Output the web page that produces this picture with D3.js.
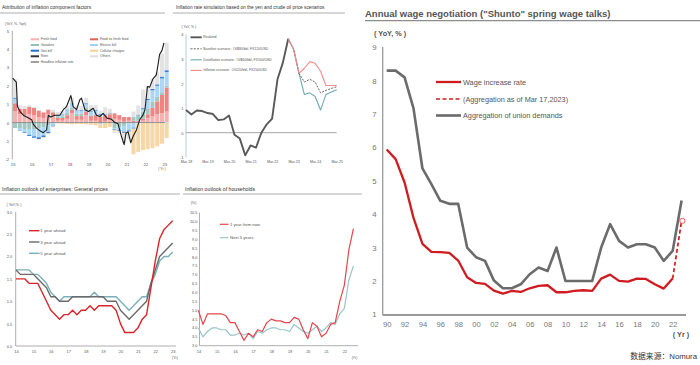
<!DOCTYPE html>
<html><head><meta charset="utf-8">
<script src="https://cdn.jsdelivr.net/npm/d3@7"></script>
<style>
html,body{margin:0;padding:0;background:#fff;}
svg{display:block;}
</style></head><body>
<script>
// ================= DATA =================
// Panel A: Attribution of inflation component factors (quarterly, %pt)
const attrQuarters = [2015,2015.25,2015.5,2015.75,2016,2016.25,2016.5,2016.75,2017,2017.25,2017.5,2017.75,2018,2018.25,2018.5,2018.75,2019,2019.25,2019.5,2019.75,2020,2020.25,2020.5,2020.75,2021,2021.25,2021.5,2021.75,2022,2022.25,2022.5,2022.75,2023];
const attrFreshFood = [0.6,0.45,0.4,0.45, 0.4,0.3,0.25,0.45, 0.35,0.1,0.1,0.2, 0.5,0.15,0.15,0.4, 0.1,0.1,-0.05,0.05, 0.2,0.2,0.15,0.05, 0.1,0.0,0.05,0.1, 0.25,0.35,0.45,0.5, 0.6];
const attrFoodEx = [0.45,0.3,0.35,0.4, 0.4,0.35,0.3,0.25, 0.2,0.15,0.15,0.2, 0.2,0.2,0.2,0.2, 0.25,0.3,0.3,0.35, 0.25,0.3,0.25,0.25, 0.2,0.1,0.05,0.1, 0.2,0.45,0.7,1.0, 1.3];
const attrGasoline = [-0.3,-0.3,-0.35,-0.35, -0.35,-0.3,-0.25,-0.15, 0.05,0.1,0.1,0.12, 0.12,0.12,0.15,0.2, 0.05,0.05,-0.05,-0.05, 0.1,-0.3,-0.25,-0.2, -0.05,0.2,0.3,0.4, 0.33,0.35,0.25,0.15, 0.1];
const attrElectric = [0.25,-0.1,-0.17,-0.32, -0.4,-0.5,-0.45,-0.35, -0.17,0.05,0.1,0.15, 0.18,0.15,0.15,0.2, 0.2,0.2,0.12,0.05, 0.0,-0.05,-0.15,-0.3, -0.38,-0.28,-0.05,0.15, 0.45,0.6,0.6,0.75, 0.75];
const attrGasBill = [0.06,-0.03,-0.04,-0.06, -0.08,-0.1,-0.1,-0.08, -0.04,0.03,0.03,0.04, 0.04,0.04,0.04,0.05, 0.05,0.05,0.04,0.03, -0.03,-0.04,-0.05,-0.06, -0.06,-0.05,0.03,0.04, 0.06,0.08,0.08,0.1, 0.1];
const attrCellular = [0,0,0,0, 0,-0.02,-0.03,-0.05, -0.05,-0.05,-0.05,-0.08, -0.1,-0.08,-0.08,-0.1, -0.12,-0.15,-0.2,-0.25, -0.2,-0.08,-0.05,-0.05, -0.05,-1.4,-1.55,-1.5, -1.45,-1.4,-1.3,-1.15, -0.85];
const attrOthers = [1.0,0.2,0.15,0.1, 0.05,0.0,0.0,0.05, 0.1,0.15,0.15,0.2, 0.3,0.25,0.2,0.3, 0.3,0.25,0.2,0.35, 0.2,-0.1,-0.1,-0.5, -0.35,0.3,0.5,1.0, 0.7,0.55,0.65,1.25, 1.5];
const headlineDates = [2015.0,2015.105,2015.19,2015.25,2015.39,2015.56,2015.74,2016.0,2016.09,2016.26,2016.44,2016.61,2016.79,2016.88,2017.0,2017.23,2017.49,2017.67,2017.84,2017.98,2018.07,2018.19,2018.37,2018.54,2018.63,2018.81,2019.0,2019.25,2019.42,2019.6,2019.77,2019.98,2020.21,2020.39,2020.56,2020.74,2020.88,2020.98,2021.09,2021.23,2021.35,2021.53,2021.7,2021.88,2021.98,2022.11,2022.23,2022.4,2022.58,2022.67,2022.75,2022.88,2022.98];
const headlineValues = [2.42,2.3,2.2,0.87,0.6,0.4,0.3,0.15,-0.1,-0.3,-0.45,-0.55,-0.4,0.4,0.3,0.4,0.4,0.7,0.87,1.24,1.47,0.87,0.7,1.24,1.33,0.7,0.6,0.78,0.4,0.33,0.5,0.24,0.18,0.0,-0.07,-0.76,-1.2,-0.58,-0.5,-1.1,-0.76,-0.4,0.15,0.42,0.7,1.96,1.93,2.38,2.6,3.15,3.7,3.93,4.33];
const attrYearTicks = [2015,2016,2017,2018,2019,2020,2021,2022,2023];
const attrYTicks = [-2,-1,0,1,2,3,4,5];

// Panel B: Inflation rate simulation (quarterly, YoY %)
const simQuarters = ["Mar-18","Jun-18","Sep-18","Dec-18","Mar-19","Jun-19","Sep-19","Dec-19","Mar-20","Jun-20","Sep-20","Dec-20","Mar-21","Jun-21","Sep-21","Dec-21","Mar-22","Jun-22","Sep-22","Dec-22","Mar-23","Jun-23","Sep-23","Dec-23","Mar-24","Jun-24","Sep-24","Dec-24","Mar-25"];
const simRealized = [0.92,0.74,0.9,0.88,0.8,0.76,0.51,0.54,0.7,-0.08,-0.24,-0.92,-0.52,-0.61,0.0,0.34,0.57,2.17,2.85,3.82];
const simInflation = [3.82,3.39,2.41,2.62,2.89,2.82,2.5,1.92,1.92,1.92];
const simBaseline = [3.82,3.39,2.41,2.06,2.17,2.06,1.62,1.72,1.8,1.87];
const simDisinflation = [3.82,3.39,2.41,1.55,1.62,1.47,0.92,1.55,1.65,1.75];
const simXTicks = ["Mar-18","Mar-19","Mar-20","Mar-21","Mar-22","Mar-23","Mar-24","Mar-25"];
const simYTicks = [-1,0,1,2,3,4];

// Panel C: Inflation outlook of enterprises (quarterly 2014Q1-2023Q1)
const entQuarters = [2014,2014.25,2014.5,2014.75,2015,2015.25,2015.5,2015.75,2016,2016.25,2016.5,2016.75,2017,2017.25,2017.5,2017.75,2018,2018.25,2018.5,2018.75,2019,2019.25,2019.5,2019.75,2020,2020.25,2020.5,2020.75,2021,2021.25,2021.5,2021.75,2022,2022.25,2022.5,2022.75,2023];
const entOneYear = [1.5,1.5,1.5,1.4,1.4,1.4,1.2,1.0,0.8,0.7,0.6,0.7,0.7,0.8,0.7,0.8,0.8,0.9,0.8,0.9,0.9,0.9,0.9,0.8,0.5,0.3,0.3,0.3,0.4,0.6,0.7,1.3,1.9,2.4,2.6,2.7,2.8];
const entThreeYear = [1.7,1.6,1.6,1.6,1.6,1.5,1.4,1.3,1.1,1.1,1.0,1.0,1.0,1.1,1.1,1.1,1.1,1.1,1.1,1.1,1.1,1.0,1.0,1.0,0.8,0.7,0.6,0.7,0.8,0.9,1.0,1.4,1.7,2.0,2.1,2.2,2.3];
const entFiveYear = [1.7,1.7,1.7,1.7,1.6,1.6,1.5,1.4,1.2,1.1,1.0,1.1,1.1,1.1,1.1,1.1,1.1,1.1,1.2,1.1,1.1,1.1,1.1,1.1,1.0,0.9,0.8,0.9,1.0,1.1,1.1,1.4,1.6,1.9,2.0,2.0,2.1];
const entYearTicks = [2014,2015,2016,2017,2018,2019,2020,2021,2022,2023];
const entYTicks = [0,0.5,1.0,1.5,2.0,2.5,3.0];

// Panel D: Inflation outlook of households (quarterly 2014Q1-2022Q3)
const hhQuarters = [2014,2014.25,2014.5,2014.75,2015,2015.25,2015.5,2015.75,2016,2016.25,2016.5,2016.75,2017,2017.25,2017.5,2017.75,2018,2018.25,2018.5,2018.75,2019,2019.25,2019.5,2019.75,2020,2020.25,2020.5,2020.75,2021,2021.25,2021.5,2021.75,2022,2022.25,2022.5];
const hhOneYear = [5.0,4.2,4.8,4.8,4.8,4.8,4.7,4.3,4.3,3.8,3.3,3.7,3.5,3.9,3.8,4.3,4.5,4.4,4.4,4.3,4.3,4.6,4.5,3.9,3.4,4.3,4.1,3.5,3.7,4.2,4.3,5.5,6.4,8.4,9.6];
const hhFiveYear = [4.0,3.5,3.8,4.0,4.0,3.9,3.9,3.6,3.6,3.7,3.6,3.7,3.4,3.8,3.7,3.9,4.0,4.0,3.9,3.9,3.8,4.2,4.0,3.8,3.7,3.9,4.1,3.8,4.0,4.3,4.2,4.8,5.1,6.7,7.5];
const hhYearTicks = [2014,2015,2016,2017,2018,2019,2020,2021,2022];
const hhYTicks = [3.0,3.5,4.0,4.5,5.0,5.5,6.0,6.5,7.0,7.5,8.0,8.5,9.0,9.5,10.0,10.5];

// Right: Annual wage negotiation (Shunto)
const shuntoYears = [1990,1991,1992,1993,1994,1995,1996,1997,1998,1999,2000,2001,2002,2003,2004,2005,2006,2007,2008,2009,2010,2011,2012,2013,2014,2015,2016,2017,2018,2019,2020,2021,2022];
const wageRate = [5.94,5.65,4.95,3.89,3.11,2.87,2.86,2.84,2.61,2.11,1.94,1.91,1.71,1.62,1.70,1.67,1.78,1.85,1.87,1.66,1.66,1.70,1.72,1.70,2.07,2.19,2.00,1.98,2.07,2.06,1.90,1.77,2.07];
const wageRate2023 = 3.80;
const unionYears = [1990,1991,1992,1993,1994,1995,1996,1997,1998,1999,2000,2001,2002,2003,2004,2005,2006,2007,2008,2009,2010,2011,2012,2013,2014,2015,2016,2017,2018,2019,2020,2021,2022,2023];
const unionDemands = [8.3,8.3,8.1,7.17,5.37,4.9,4.4,4.31,4.31,3.0,2.71,2.6,2.01,1.78,1.78,1.9,2.2,2.4,2.3,3.0,2.0,2.0,2.0,2.0,3.0,3.7,3.2,3.0,3.1,3.1,3.0,2.6,2.9,4.41];
const shuntoXTicks = [1990,1992,1994,1996,1998,2000,2002,2004,2006,2008,2010,2012,2014,2016,2018,2020,2022];
const shuntoXLabels = ["90","92","94","96","98","00","02","04","06","08","10","12","14","16","18","20","22"];
const shuntoYTicks = [1,2,3,4,5,6,7,8,9];

// ================= DRAW =================
const FONT = "'Liberation Sans', Arial, 'Noto Sans CJK SC', sans-serif";
const svg = d3.select("body").append("svg").attr("width", 700).attr("height", 365)
  .style("font-family", FONT);

function addText(g, x, y, str, size, o = {}) {
  return g.append("text").attr("x", x).attr("y", y).attr("font-size", size)
    .attr("fill", o.fill || "#444").attr("font-weight", o.weight || "normal")
    .attr("text-anchor", o.anchor || "start").attr("dominant-baseline", "central").text(str);
}
function hline(g, x1, x2, y, c, w) {
  g.append("line").attr("x1", x1).attr("x2", x2).attr("y1", y).attr("y2", y).attr("stroke", c).attr("stroke-width", w);
}
function vline(g, x, y1, y2, c, w) {
  g.append("line").attr("x1", x).attr("x2", x).attr("y1", y1).attr("y2", y2).attr("stroke", c).attr("stroke-width", w);
}
function leftAxis(g, scale, x, ticks, fmt, size, color, pad) {
  const a = g.append("g").attr("transform", `translate(${x},0)`)
    .call(d3.axisLeft(scale).tickValues(ticks).tickFormat(fmt).tickSize(0).tickPadding(pad));
  a.attr("font-family", null).attr("font-size", size);
  a.select(".domain").remove();
  a.selectAll(".tick text").attr("fill", color).attr("dy", null).attr("dominant-baseline", "central");
  return a;
}
function bottomAxis(g, scale, y, ticks, fmt, size, color) {
  const a = g.append("g").attr("transform", `translate(0,${y})`)
    .call(d3.axisBottom(scale).tickValues(ticks).tickFormat(fmt).tickSize(0).tickPadding(0));
  a.attr("font-family", null).attr("font-size", size);
  a.select(".domain").remove();
  a.selectAll(".tick text").attr("fill", color).attr("dy", null).attr("y", 0).attr("dominant-baseline", "central");
  return a;
}
function drawLine(g, xs, ys, sx, sy, color, w, dash) {
  const pts = xs.map((x, i) => [x, ys[i]]);
  const p = g.append("path").attr("d", d3.line().x(d => sx(d[0])).y(d => sy(d[1]))(pts))
    .attr("fill", "none").attr("stroke", color).attr("stroke-width", w)
    .attr("stroke-linejoin", "round");
  if (dash) p.attr("stroke-dasharray", dash);
  return p;
}

// ---------- Panel A ----------
{
  const g = svg.append("g");
  addText(g, 2, 7, "Attribution of inflation component factors", 5, {fill: "#333"});
  hline(g, 0, 165, 13, "#9a9a9a", 0.8);
  addText(g, 5, 24, "(YoY, %, %pt)", 3.5, {fill: "#555"});
  const xA = d3.scaleLinear().domain([2015, 2023]).range([12.7, 164.3]);
  const yA = d3.scaleLinear().domain([-2, 5]).range([159.3, 30.7]);
  const keys = ["freshFood", "foodEx", "gasoline", "electric", "gasBill", "cellular", "others"];
  const cols = {freshFood: "#f7b1b0", foodEx: "#ee8583", gasoline: "#a3c8c2", electric: "#aad7f8",
    gasBill: "#3a80dc", cellular: "#f7d7a6", others: "#e3e3e3"};
  const rows = attrQuarters.map((t, i) => ({t, freshFood: attrFreshFood[i], foodEx: attrFoodEx[i],
    gasoline: attrGasoline[i], electric: attrElectric[i], gasBill: attrGasBill[i],
    cellular: attrCellular[i], others: attrOthers[i]}));
  const stack = d3.stack().keys(keys).offset(d3.stackOffsetDiverging)(rows);
  const bw = xA(2015.25) - xA(2015) - 0.7;
  g.append("g").selectAll("g").data(stack).join("g").attr("fill", d => cols[d.key])
    .selectAll("rect").data(d => d).join("rect")
    .attr("x", d => xA(d.data.t) + 0.35).attr("width", bw)
    .attr("y", d => yA(Math.max(d[0], d[1]))).attr("height", d => Math.abs(yA(d[0]) - yA(d[1])));
  vline(g, 12.3, 30.7, 159.3, "#9a9a9a", 0.8);
  hline(g, 12.3, 165, yA(0), "#8a8a8a", 0.9);
  drawLine(g, headlineDates, headlineValues, xA, yA, "#1c1c1c", 1.1);
  leftAxis(g, yA, 12.3, attrYTicks, d => d, 4.2, "#555", 3.2);
  bottomAxis(g, xA, 164.2, attrYearTicks, d => String(d).slice(2), 4.2, "#555");
  addText(g, 162, 168.5, "( Yr )", 3.3, {fill: "#555", anchor: "middle"});
  // legend
  const leg1 = [["Fresh food", "#f7b1b0", 2], ["Gasoline", "#93c0b9", 2], ["Gas bill", "#2271d6", 2], ["Rent", "#333333", 2], ["Headline inflation rate", "#8a8a8a", 1.6]];
  const leg2 = [["Food ex fresh food", "#e85d5a", 2], ["Electric bill", "#a2d3f7", 2], ["Cellular charges", "#f6d19a", 2], ["Others", "#dedede", 2]];
  const ly = [39.3, 45, 50.7, 56.3, 62];
  leg1.forEach((d, i) => { hline(g, 30.7, 39, ly[i], d[1], d[2]); addText(g, 40.7, ly[i], d[0], 3.4, {fill: "#555"}); });
  leg2.forEach((d, i) => { hline(g, 90, 98, ly[i], d[1], d[2]); addText(g, 100, ly[i], d[0], 3.4, {fill: "#555"}); });
}

// ---------- Panel B ----------
{
  const g = svg.append("g");
  addText(g, 176, 7, "Inflation rate simulation based on the yen and crude oil price scenarios", 4.75, {fill: "#333"});
  hline(g, 173, 345, 13, "#9a9a9a", 0.8);
  addText(g, 181.5, 26.5, "( YoY, % )", 3.4, {fill: "#555"});
  const xB = d3.scalePoint().domain(simQuarters).range([186, 336.7]);
  const yB = d3.scaleLinear().domain([-1, 4]).range([157.3, 34.3]);
  vline(g, 186, 34.3, 157.3, "#a9c7de", 0.9);
  hline(g, 186, 336.7, yB(0), "#8c8c8c", 0.8);
  leftAxis(g, yB, 186, simYTicks, d => d, 4, "#555", 2.5);
  bottomAxis(g, xB, 162.3, simXTicks, d => d, 3.6, "#555");
  const scen = simQuarters.slice(19);
  drawLine(g, simQuarters.slice(0, 20), simRealized, xB, yB, "#595959", 1.9);
  drawLine(g, scen, simDisinflation, xB, yB, "#6ea9b2", 1.1);
  drawLine(g, scen, simBaseline, xB, yB, "#555", 0.9, "2,1.3");
  drawLine(g, scen, simInflation, xB, yB, "#f28b8b", 1.1);
  hline(g, 190.5, 201.7, 37.3, "#595959", 1.9);
  addText(g, 203.3, 37.3, "Realized", 3.4, {fill: "#555"});
  g.append("line").attr("x1", 190.5).attr("x2", 201.7).attr("y1", 48.8).attr("y2", 48.8)
    .attr("stroke", "#555").attr("stroke-width", 0.9).attr("stroke-dasharray", "2,1.3");
  addText(g, 203.3, 48.8, "Baseline scenario : Oil$80/bbl, FX120/USD", 3.4, {fill: "#555"});
  hline(g, 190.5, 201.7, 59.8, "#6ea9b2", 1.1);
  addText(g, 203.3, 59.8, "Disinflation scenario : Oil$60/bbl, FX100/USD", 3.4, {fill: "#555"});
  hline(g, 190.5, 201.7, 70.4, "#f28b8b", 1.1);
  addText(g, 203.3, 70.4, "Inflation scenario : Oil120/bbl, FX150/USD", 3.4, {fill: "#555"});
}

// ---------- Panel C ----------
{
  const g = svg.append("g");
  addText(g, 2, 189.3, "Inflation outlook of enterprises: General prices", 5.2, {fill: "#333"});
  hline(g, 0, 180, 194, "#9a9a9a", 0.8);
  addText(g, 6.5, 204.8, "( YoY,% )", 3.7, {fill: "#555"});
  const xC = d3.scaleLinear().domain([2014, 2023]).range([16, 172.7]);
  const yC = d3.scaleLinear().domain([0, 3]).range([346, 211.7]);
  vline(g, 15.7, 211.7, 346, "#9a9a9a", 0.8);
  hline(g, 15.7, 176, 346, "#9a9a9a", 0.8);
  leftAxis(g, yC, 15.7, entYTicks, d3.format(".1f"), 4, "#555", 3.5);
  bottomAxis(g, xC, 351.7, entYearTicks, d => String(d).slice(2), 4, "#555");
  addText(g, 175, 358, "(Yr)", 3.6, {fill: "#555", anchor: "middle"});
  drawLine(g, entQuarters, entFiveYear, xC, yC, "#79afb8", 1.4);
  drawLine(g, entQuarters, entThreeYear, xC, yC, "#6a6a6a", 1.4);
  drawLine(g, entQuarters, entOneYear, xC, yC, "#d7262b", 1.4);
  const leg = [["1 year ahead", "#d7262b", 230.7], ["3 year ahead", "#6a6a6a", 242], ["5 year ahead", "#79afb8", 253.3]];
  leg.forEach(d => { hline(g, 29, 39.5, d[2], d[1], 1.4); addText(g, 40.3, d[2], d[0], 4.3, {fill: "#555"}); });
}

// ---------- Panel D ----------
{
  const g = svg.append("g");
  addText(g, 185, 189.3, "Inflation outlook of households", 5.2, {fill: "#333"});
  hline(g, 183, 362, 194, "#9a9a9a", 0.8);
  addText(g, 193.5, 203.3, "(%)", 3.7, {fill: "#555", anchor: "middle"});
  const xD = d3.scaleLinear().domain([2014, 2022]).range([198.4, 344.3]);
  const yD = d3.scaleLinear().domain([3, 10.5]).range([345.7, 212.7]);
  vline(g, 199.5, 212.7, 345.7, "#9a9a9a", 0.8);
  hline(g, 199.5, 358, 345.7, "#9a9a9a", 0.8);
  leftAxis(g, yD, 199.5, hhYTicks, d3.format(".1f"), 3.8, "#555", 2.2);
  bottomAxis(g, xD, 351.7, hhYearTicks, d => String(d).slice(2), 3.9, "#555");
  addText(g, 354.5, 357.7, "(Yr)", 3.4, {fill: "#555", anchor: "middle"});
  drawLine(g, hhQuarters, hhFiveYear, xD, yD, "#98c5cc", 1.2);
  drawLine(g, hhQuarters, hhOneYear, xD, yD, "#e3474c", 1.2);
  hline(g, 220, 228.5, 224.3, "#e3474c", 1.2);
  addText(g, 230, 224.3, "1 year from now", 4.2, {fill: "#555"});
  hline(g, 220, 228.5, 237.7, "#98c5cc", 1.2);
  addText(g, 230, 237.7, "Next 5 years", 4.2, {fill: "#555"});
}

// ---------- Right: Shunto ----------
{
  const g = svg.append("g");
  addText(g, 365, 13.5, 'Annual wage negotiation ("Shunto" spring wage talks)', 9.5, {fill: "#555", weight: "bold"});
  hline(g, 365, 700, 20.7, "#8c8c8c", 1.3);
  addText(g, 374, 33.7, "( YoY, % )", 7.3, {fill: "#555", weight: "bold"});
  const xR = d3.scaleLinear().domain([1990, 2023]).range([386.7, 681.6]);
  const yR = d3.scaleLinear().domain([1, 9]).range([314.3, 47.3]);
  vline(g, 382.7, 47, 315, "#9a9a9a", 1.3);
  hline(g, 382.7, 686, 315, "#9a9a9a", 1.8);
  leftAxis(g, yR, 382.7, shuntoYTicks, d => d, 7.8, "#777", 6);
  bottomAxis(g, xR, 324, shuntoXTicks, (d, i) => shuntoXLabels[i], 7.6, "#777");
  addText(g, 681, 334.5, "( Yr )", 7.3, {fill: "#555", weight: "bold", anchor: "middle"});
  addText(g, 697, 356, "数据来源：Nomura", 7.8, {fill: "#333", anchor: "end"});
  drawLine(g, unionYears, unionDemands, xR, yR, "#6b6b6b", 2.6);
  drawLine(g, shuntoYears, wageRate, xR, yR, "#d01c20", 2.3);
  drawLine(g, [2022, 2023], [wageRate[wageRate.length - 1], wageRate2023], xR, yR, "#d01c20", 1.7, "4,2.5");
  g.append("circle").attr("cx", xR(2023) + 0.8).attr("cy", yR(wageRate2023)).attr("r", 2.6)
    .attr("fill", "none").attr("stroke", "#e04a4e").attr("stroke-width", 0.9);
  // legend
  hline(g, 436, 461, 82, "#d01c20", 2.3);
  addText(g, 463, 82, "Wage increase rate", 7.3, {fill: "#555"});
  g.append("line").attr("x1", 436).attr("x2", 461).attr("y1", 99).attr("y2", 99)
    .attr("stroke", "#d01c20").attr("stroke-width", 1.7).attr("stroke-dasharray", "4,2.5");
  addText(g, 463, 99, "(Aggregation as of Mar 17,2023)", 7.3, {fill: "#555"});
  hline(g, 436, 461, 115.5, "#6b6b6b", 2.6);
  addText(g, 463, 115.5, "Aggregation of union demands", 7.3, {fill: "#555"});
}
</script>
</body></html>
